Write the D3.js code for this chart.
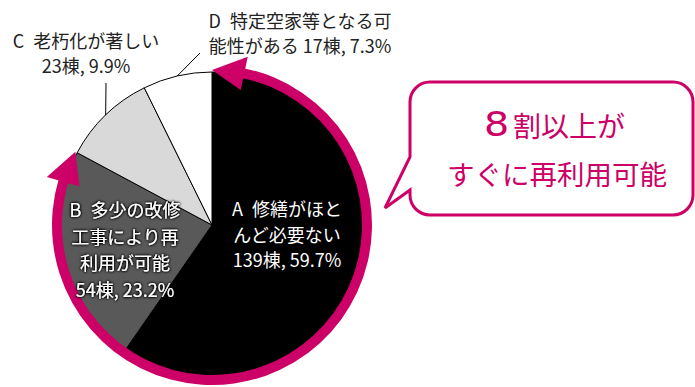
<!DOCTYPE html>
<html>
<head>
<meta charset="utf-8">
<script src="https://cdn.jsdelivr.net/npm/d3@7"></script>
<style>
  html, body { margin: 0; padding: 0; background: #fff; }
  svg { display: block; }
  text { font-family: "Liberation Sans Narrow", "Noto Sans CJK JP", sans-serif; }
</style>
</head>
<body>
<div id="chart"></div>
<script>
// data
var categories = ["A", "B", "C", "D"];
var counts = [139, 54, 23, 17];
var shares = [59.7, 23.2, 9.9, 7.3];
var nameLines = [
    ["修繕がほと", "んど必要ない"],
    ["多少の改修", "工事により再", "利用が可能"],
    ["老朽化が著しい"],
    ["特定空家等となる可", "能性がある"]
];
var countInline = [false, false, false, true];
var calloutLines = ["8", "割以上が", "すぐに再利用可能"];

var width = 695, height = 387;
var cx = 212, cy = 225, radius = 153;
var pink = "#cc0066";
var fills = ["#000000", "#595959", "#d9d9d9", "#ffffff"];

var svg = d3.select("#chart").append("svg")
    .attr("width", width)
    .attr("height", height);

var defs = svg.append("defs");
var glow = defs.append("filter").attr("id", "glow")
    .attr("x", "-20%").attr("y", "-40%").attr("width", "140%").attr("height", "180%");
glow.append("feGaussianBlur").attr("in", "SourceAlpha").attr("stdDeviation", 1.6).attr("result", "b");
glow.append("feComponentTransfer").attr("in", "b").attr("result", "b2")
    .append("feFuncA").attr("type", "linear").attr("slope", 2.2);
var merge = glow.append("feMerge");
merge.append("feMergeNode").attr("in", "b2");
merge.append("feMergeNode").attr("in", "SourceGraphic");

var pie = d3.pie().sort(null).value(function(d) { return d; });
var arcs = pie(counts);

var arc = d3.arc().innerRadius(0).outerRadius(radius);

var g = svg.append("g").attr("transform", "translate(" + cx + "," + cy + ")");

g.selectAll(".slice")
    .data(arcs)
    .enter().append("path")
    .attr("class", "slice")
    .attr("d", arc)
    .attr("fill", function(d, i) { return fills[i]; })
    .attr("stroke", "#000")
    .attr("stroke-width", 1);

// pink ring arrow over A + B
var rMid = 155, headAng = 12 * Math.PI / 180, headHalf = 17;
var startA = arcs[0].startAngle, endB = arcs[1].endAngle;
g.append("path")
    .attr("d", d3.arc().innerRadius(150).outerRadius(160)({startAngle: startA + headAng - 0.01, endAngle: endB - headAng + 0.01}))
    .attr("fill", pink);

function polar(r, a) { return [r * Math.sin(a), -r * Math.cos(a)]; }
function head(tipA, baseA) {
    var p = [polar(rMid, tipA), polar(rMid + headHalf, baseA), polar(rMid - headHalf, baseA)];
    return "M" + p.map(function(q) { return q.join(","); }).join("L") + "Z";
}
g.append("path").attr("d", head(startA, startA + headAng)).attr("fill", pink);
g.append("path").attr("d", head(endB, endB - headAng)).attr("fill", pink);

function labelLines(i) {
    var lines = nameLines[i].slice();
    lines[0] = categories[i] + "\u2002" + lines[0];
    var cnt = counts[i] + "棟, " + shares[i] + "%";
    if (countInline[i]) lines[lines.length - 1] += " " + cnt; else lines.push(cnt);
    return lines;
}

// inside labels (A, B)
var insidePos = [[287, 216], [125, 217]];
var insideStep = [25.5, 26.5];
[0, 1].forEach(function(i) {
    var t = svg.append("text")
        .attr("text-anchor", "middle")
        .attr("font-size", 18)
        .attr("fill", "#fff")
        .attr("filter", i === 1 ? "url(#glow)" : null);
    labelLines(i).forEach(function(s, k) {
        t.append("tspan").attr("x", insidePos[i][0]).attr("y", insidePos[i][1] + k * insideStep[i]).text(s);
    });
});

// outside labels (C, D) with leader lines
var outsidePos = [null, null, [86, 48], [300, 28]];
var leaderEnd = [null, null, [106, 83], [200, 53]];
[2, 3].forEach(function(i) {
    var t = svg.append("text")
        .attr("text-anchor", "middle")
        .attr("font-size", 18)
        .attr("fill", "#222");
    labelLines(i).forEach(function(s, k) {
        t.append("tspan").attr("x", outsidePos[i][0]).attr("y", outsidePos[i][1] + k * 25).text(s);
    });
    var mid = (arcs[i].startAngle + arcs[i].endAngle) / 2;
    var p = polar(radius, mid);
    svg.append("line")
        .attr("x1", cx + p[0]).attr("y1", cy + p[1])
        .attr("x2", leaderEnd[i][0]).attr("y2", leaderEnd[i][1])
        .attr("stroke", "#000").attr("stroke-width", 1);
});

// callout box
var L = 410, T = 82, R = 693, B = 215, rr = 20;
var path = d3.path();
path.moveTo(L + rr, T);
path.lineTo(R - rr, T);
path.arcTo(R, T, R, T + rr, rr);
path.lineTo(R, B - rr);
path.arcTo(R, B, R - rr, B, rr);
path.lineTo(L + rr, B);
path.arcTo(L, B, L, B - rr, rr);
path.lineTo(L, 190);
path.lineTo(385, 208);
path.lineTo(L, 157);
path.lineTo(L, T + rr);
path.arcTo(L, T, L + rr, T, rr);
path.closePath();
svg.append("path")
    .attr("d", path.toString())
    .attr("fill", "#fff")
    .attr("stroke", pink)
    .attr("stroke-width", 3);

svg.append("text")
    .attr("transform", "translate(484,136) scale(1.2,1)")
    .style("font-family", "'DejaVu Sans', sans-serif")
    .style("font-size", "33px")
    .attr("fill", pink)
    .text(calloutLines[0]);
svg.append("text")
    .attr("x", 513).attr("y", 137)
    .attr("font-size", 28)
    .attr("fill", pink)
    .text(calloutLines[1]);
svg.append("text")
    .attr("x", 557).attr("y", 185)
    .attr("text-anchor", "middle")
    .attr("font-size", 27.5)
    .attr("fill", pink)
    .text(calloutLines[2]);
</script>
</body>
</html>
